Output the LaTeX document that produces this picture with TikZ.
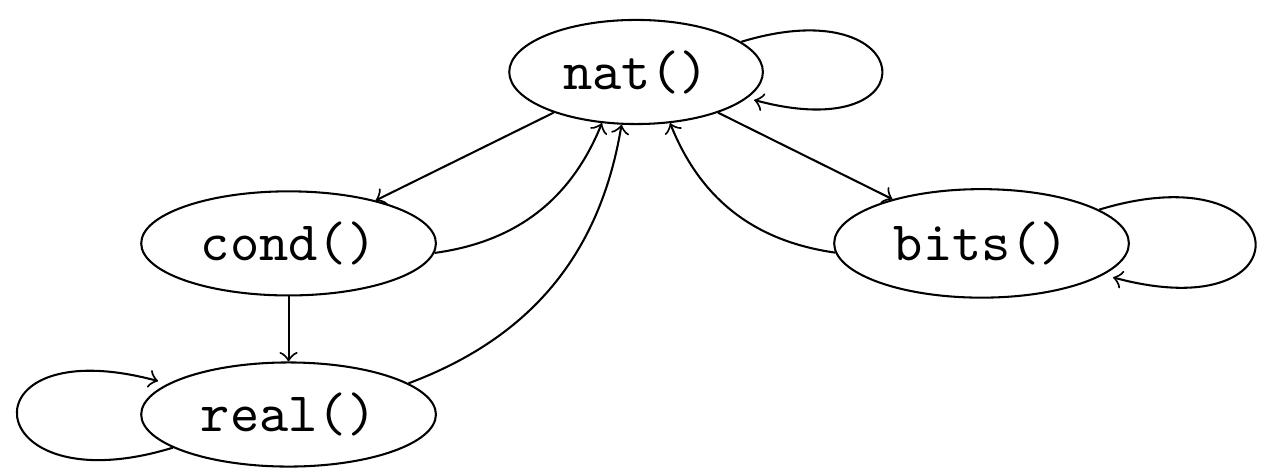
\documentclass[tikz,border=0pt]{standalone}
\usetikzlibrary{shapes.geometric}
\begin{document}
\begin{tikzpicture}[func/.style={draw,ellipse,inner sep=0pt,minimum width=2.01cm,minimum height=0.71cm,font=\fontsize{10.8}{13}\selectfont\ttfamily}]
                \useasboundingbox (0,0) rectangle (8.6,3.205);
                \node[func,minimum width=1.73cm] (nat) at (4.338,2.714) {nat()};
                \node[func] (cond) at (1.968,1.545) {cond()};
                \node[func,minimum height=0.74cm] (bits) at (6.694,1.545) {bits()};
                \node[func] (real) at (1.968,0.378) {real()};

                \draw[->] (nat) -- (cond);
                \draw[->] (nat) -- (bits);
                \draw[->] (cond) -- (real);
                \draw[->] (cond) to[bend right] (nat);
                \draw[->] (real) to[bend right] (nat);
                \draw[->] (bits) to[bend left] (nat);

                \draw[->] (nat.16) .. controls +(17:1.27) and +(-15:1.27) .. ([shift={(0.805,-0.191)}]nat.center);
                \draw[->] (bits.16) .. controls +(17:1.41) and +(-15:1.41) .. ([shift={(0.897,-0.232)}]bits.center);
                \draw[->] (real.196) .. controls +(197:1.40) and +(165:1.40) .. ([shift={(-0.89,0.228)}]real.center);
            \end{tikzpicture}
\end{document}
